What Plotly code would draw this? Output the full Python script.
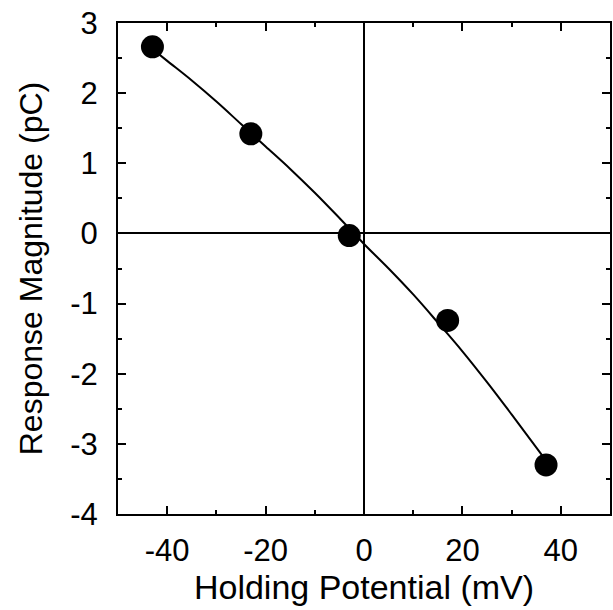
import plotly.graph_objects as go

# Measured data points
holding_mv = [-43, -23, -3, 17, 37]
response_pc = [2.66, 1.42, -0.03, -1.24, -3.30]

# Fitted curve
curve_mv = [-43, -40, -35, -30, -25, -20, -15, -10, -5, 0, 5, 10, 15, 20, 25, 30, 35, 37]
curve_pc = [2.63, 2.46, 2.18, 1.88, 1.56, 1.24, 0.92, 0.58, 0.22, -0.15, -0.50, -0.87,
            -1.27, -1.68, -2.12, -2.58, -3.05, -3.24]

x_ticks = [-40, -20, 0, 20, 40]
y_ticks = [-4, -3, -2, -1, 0, 1, 2, 3]

fig = go.Figure()
fig.add_trace(go.Scatter(x=curve_mv, y=curve_pc, mode="lines",
                         line=dict(color="black", width=2, shape="spline"),
                         hoverinfo="skip", showlegend=False))
fig.add_trace(go.Scatter(x=holding_mv, y=response_pc, mode="markers",
                         marker=dict(color="black", size=23),
                         showlegend=False))

font_family = "Liberation Sans, Arial, Helvetica, sans-serif"

fig.update_layout(
    width=613, height=610,
    margin=dict(l=118, r=1, t=23, b=96),
    paper_bgcolor="white", plot_bgcolor="white",
    font=dict(family=font_family, color="black", size=31),
)
fig.update_xaxes(
    range=[-50, 50], tickvals=x_ticks, ticktext=[str(v) for v in x_ticks],
    ticks="inside", ticklen=8, tickwidth=2, tickcolor="black",
    minor=dict(dtick=10, tick0=0, ticks="inside", ticklen=4, tickwidth=2, tickcolor="black"),
    showline=True, linecolor="black", linewidth=2, mirror="ticks",
    showgrid=False, zeroline=True, zerolinecolor="black", zerolinewidth=1.5,
    tickfont=dict(size=31), ticklabelstandoff=8,
    title=dict(text="Holding Potential (mV)", font=dict(size=34), standoff=0),
)
fig.update_yaxes(
    range=[-4, 3], tickvals=y_ticks, ticktext=[str(v) for v in y_ticks],
    ticks="inside", ticklen=8, tickwidth=2, tickcolor="black",
    minor=dict(dtick=0.5, tick0=0, ticks="inside", ticklen=4, tickwidth=2, tickcolor="black"),
    showline=True, linecolor="black", linewidth=2, mirror="ticks",
    showgrid=False, zeroline=True, zerolinecolor="black", zerolinewidth=1.5,
    tickfont=dict(size=31), ticklabelstandoff=12,
    title=dict(text="Response Magnitude (pC)", font=dict(size=32), standoff=18),
)

fig.write_html("out.html")
